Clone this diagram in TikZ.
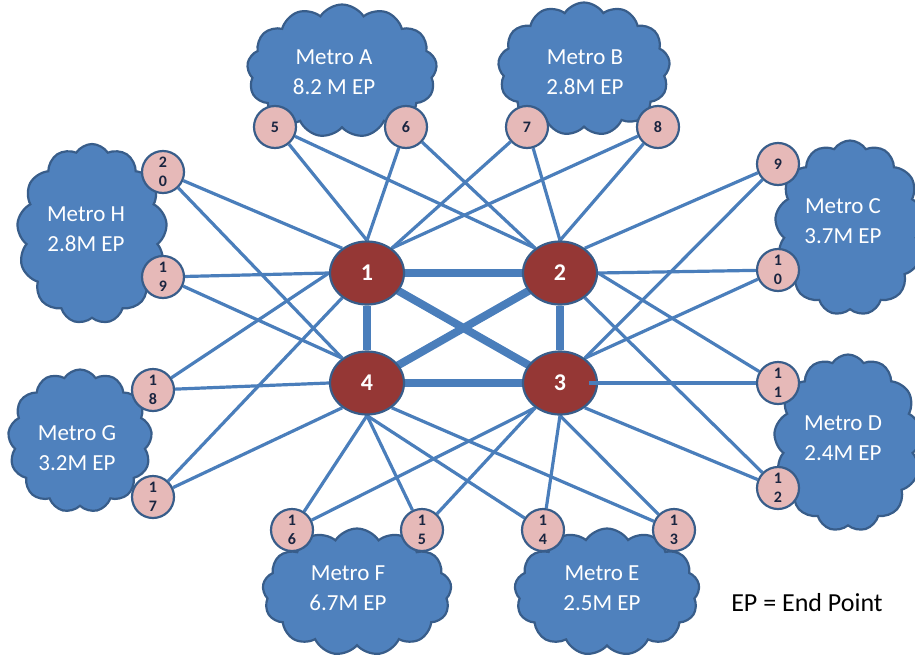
\documentclass[tikz,border=0pt]{standalone}
\usepackage{fontspec}
\setmainfont{Carlito}
\usetikzlibrary{shapes.geometric,shapes.symbols}
\definecolor{cloudfill}{HTML}{4F81BD}
\definecolor{cloudline}{HTML}{385D8A}
\definecolor{linkblue}{HTML}{4A7EBB}
\definecolor{hubred}{HTML}{953735}
\definecolor{portpink}{HTML}{E6B9B8}
\definecolor{porttext}{HTML}{1A2540}
\pgfdeclarelayer{bg}
\pgfdeclarelayer{edges}
\pgfsetlayers{bg,edges,main}
\tikzset{
 metro/.style={cloud, cloud puffs=13, cloud puff arc=115, cloud ignores aspect, draw=cloudline, fill=cloudfill, line width=2.2pt, inner sep=0pt},
 metrotext/.style={text=white, font=\fontsize{23}{30}\selectfont, align=center},
 hub/.style={ellipse, draw=cloudline, fill=hubred, line width=2.2pt, minimum width=74pt, minimum height=63pt, inner sep=0pt, text=white, font=\fontsize{24}{24}\selectfont\bfseries},
 port/.style={circle, draw=cloudline, fill=portpink, line width=2.2pt, minimum size=42pt, inner sep=0pt, text=porttext, font=\fontsize{16}{19}\selectfont\bfseries, align=center},
 link/.style={draw=linkblue, line width=3.2pt},
 trunk/.style={draw=linkblue, line width=8pt},
 legend/.style={text=black, font=\fontsize{26}{30}\selectfont},
}
\begin{document}
\begin{tikzpicture}[x=1pt,y=-1pt]
\useasboundingbox (0,0) rectangle (915,656);
\begin{pgfonlayer}{bg}
\node[metro, minimum width=190pt, minimum height=133pt] (cA) at (342,71) {};
\node[metro, minimum width=172pt, minimum height=133pt] (cB) at (584,69) {};
\node[metro, minimum width=150pt, minimum height=180pt] (cH) at (92,234) {};
\node[metro, minimum width=150pt, minimum height=175pt] (cC) at (850,228) {};
\node[metro, minimum width=144pt, minimum height=143pt] (cG) at (80,441) {};
\node[metro, minimum width=148pt, minimum height=177pt] (cD) at (848,443) {};
\node[metro, minimum width=189pt, minimum height=127pt] (cF) at (357,592) {};
\node[metro, minimum width=185pt, minimum height=127pt] (cE) at (607,592) {};
\end{pgfonlayer}
\node[metrotext] (tA) at (334,72) {Metro A\\8.2 M EP};
\node[metrotext] (tB) at (585,72) {Metro B\\2.8M EP};
\node[metrotext] (tH) at (86,229) {Metro H\\2.8M EP};
\node[metrotext] (tC) at (843,221) {Metro C\\3.7M EP};
\node[metrotext] (tG) at (77,448) {Metro G\\3.2M EP};
\node[metrotext] (tD) at (843,438) {Metro D\\2.4M EP};
\node[metrotext] (tF) at (348,588) {Metro F\\6.7M EP};
\node[metrotext] (tE) at (602,588) {Metro E\\2.5M EP};
\node[legend] (leg) at (807,603) {EP = End Point};
% hubs
\node[hub] (n1) at (367,273) {1};
\node[hub] (n2) at (560,273) {2};
\node[hub] (n3) at (560,383) {3};
\node[hub] (n4) at (367,383) {4};
% ports
\node[port] (p5) at (275,127) {5};
\node[port] (p6) at (406,127) {6};
\node[port] (p7) at (527,127) {7};
\node[port] (p8) at (658,127) {8};
\node[port] (p20) at (163,172) {2\\0};
\node[port] (p19) at (163,277) {1\\9};
\node[port] (p18) at (153,390) {1\\8};
\node[port] (p17) at (153,497) {1\\7};
\node[port] (p9) at (778,164) {9};
\node[port] (p10) at (778,270) {1\\0};
\node[port] (p11) at (778,383) {1\\1};
\node[port] (p12) at (778,488) {1\\2};
\node[port] (p16) at (292,530) {1\\6};
\node[port] (p15) at (422,530) {1\\5};
\node[port] (p14) at (543,530) {1\\4};
\node[port] (p13) at (674,530) {1\\3};
\begin{pgfonlayer}{edges}
\draw[trunk] (n1.east) -- (n2.west);
\draw[trunk] (n4.east) -- (n3.west);
\draw[trunk] (n1.south) -- (n4.north);
\draw[trunk] (n2.south) -- (n3.north);
\draw[trunk] (n1.center) -- (n3.center);
\draw[trunk] (n4.center) -- (n2.center);
% top
\draw[link] (p5) -- (n1.north);
\draw[link] (p5) -- (n2.135);
\draw[link] (p6) -- (n1.north);
\draw[link] (p6) -- (n2.135);
\draw[link] (p7) -- (n1.45);
\draw[link] (p7) -- (n2.north);
\draw[link] (p8) -- (n1.45);
\draw[link] (p8) -- (n2.north);
% left
\draw[link] (p20) -- (n1.135);
\draw[link] (p20) -- (n4.135);
\draw[link] (p19) -- (n1.west);
\draw[link] (p19) -- (n4.135);
\draw[link] (p18) -- (n1.west);
\draw[link] (p18) -- (n4.west);
\draw[link] (p17) -- (n1.225);
\draw[link] (p17) -- (n4.225);
% right
\draw[link] (p9) -- (n2.45);
\draw[link] (p9) -- (n3.45);
\draw[link] (p10) -- (n2.east);
\draw[link] (p10) -- (n3.45);
\draw[link] (p11) -- (n2.east);
\draw[link] (p12) -- (n2.-45);
\draw[link] (p12) -- (n3.-45);
% bottom
\draw[link] (p16) -- (n4.south);
\draw[link] (p16) -- (n3.225);
\draw[link] (p15) -- (n4.south);
\draw[link] (p15) -- (n3.225);
\draw[link] (p14) -- (n4.south);
\draw[link] (p14) -- (n3.south);
\draw[link] (p13) -- (n4.-45);
\draw[link] (p13) -- (n3.south);
\end{pgfonlayer}
\draw[link] ([xshift=-9pt]n3.east) -- (p11);
\end{tikzpicture}
\end{document}
